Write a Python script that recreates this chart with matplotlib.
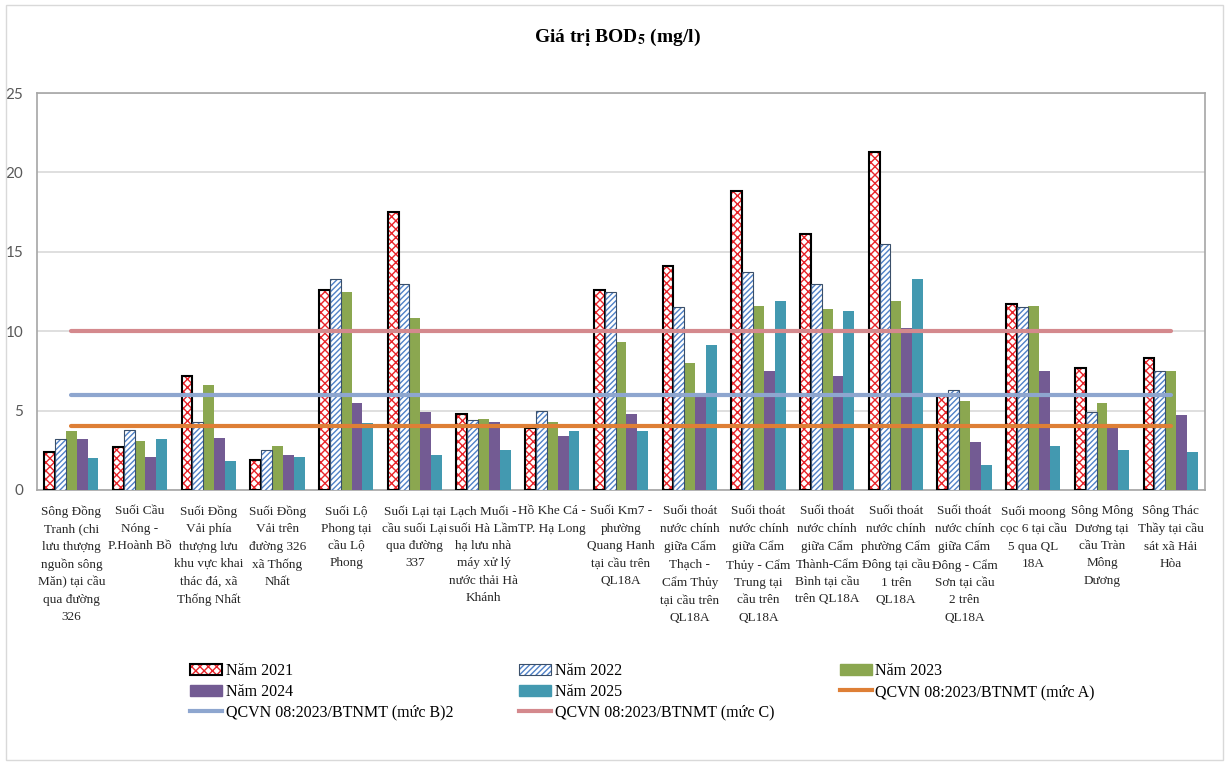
import numpy as np
import matplotlib
matplotlib.use("Agg")
import matplotlib.pyplot as plt
from matplotlib.patches import Patch, Rectangle
from matplotlib.lines import Line2D

plt.rcParams['font.family'] = ['Liberation Serif', 'DejaVu Serif']
plt.rcParams['hatch.linewidth'] = 1.0

categories = [
    "Sông Đồng\nTranh (chi\nlưu thượng\nnguồn sông\nMăn) tại cầu\nqua đường\n326",
    "Suối Cầu\nNóng -\nP.Hoành Bồ",
    "Suối Đồng\nVải phía\nthượng lưu\nkhu vực khai\nthác đá, xã\nThống Nhất",
    "Suối Đồng\nVải trên\nđường 326\nxã Thống\nNhất",
    "Suối Lộ\nPhong tại\ncầu Lộ\nPhong",
    "Suối Lại tại\ncầu suối Lại\nqua đường\n337",
    "Lạch Muối -\nsuối Hà Lầm\nhạ lưu nhà\nmáy xử lý\nnước thải Hà\nKhánh",
    "Hồ Khe Cá -\nTP. Hạ Long",
    "Suối Km7 -\nphường\nQuang Hanh\ntại cầu trên\nQL18A",
    "Suối thoát\nnước chính\ngiữa Cẩm\nThạch -\nCẩm Thủy\ntại cầu trên\nQL18A",
    "Suối thoát\nnước chính\ngiữa Cẩm\nThủy - Cẩm\nTrung tại\ncầu trên\nQL18A",
    "Suối thoát\nnước chính\ngiữa Cẩm\nThành-Cẩm\nBình tại cầu\ntrên QL18A",
    "Suối thoát\nnước chính\nphường Cẩm\nĐông tại cầu\n1 trên\nQL18A",
    "Suối thoát\nnước chính\ngiữa Cẩm\nĐông - Cẩm\nSơn tại cầu\n2 trên\nQL18A",
    "Suối moong\ncọc 6 tại cầu\n5 qua QL\n18A",
    "Sông Mông\nDương tại\ncầu Tràn\nMông\nDương",
    "Sông Thác\nThầy tại cầu\nsát xã Hải\nHòa",
]

y2021 = [2.4, 2.7, 7.2, 1.9, 12.6, 17.5, 4.8, 3.9, 12.6, 14.1, 18.8, 16.1, 21.3, 5.9, 11.7, 7.7, 8.3]
y2022 = [3.2, 3.8, 4.3, 2.5, 13.3, 13.0, 4.4, 5.0, 12.5, 11.5, 13.7, 13.0, 15.5, 6.3, 11.5, 4.9, 7.5]
y2023 = [3.7, 3.1, 6.6, 2.8, 12.5, 10.8, 4.5, 4.3, 9.3, 8.0, 11.6, 11.4, 11.9, 5.6, 11.6, 5.5, 7.5]
y2024 = [3.2, 2.1, 3.3, 2.2, 5.5, 4.9, 4.3, 3.4, 4.8, 5.9, 7.5, 7.2, 10.2, 3.0, 7.5, 3.9, 4.7]
y2025 = [2.0, 3.2, 1.8, 2.1, 4.2, 2.2, 2.5, 3.7, 3.7, 9.1, 11.9, 11.3, 13.3, 1.6, 2.8, 2.5, 2.4]

muc_a = 4
muc_b = 6
muc_c = 10

fig = plt.figure(figsize=(12.29, 7.65), dpi=100)
ax = fig.add_axes([0.0301, 0.3595, 0.9504, 0.5189])

x = np.arange(len(categories))
w = 0.158
offs = np.array([-2, -1, 0, 1, 2]) * w

# 2021: red crosshatch with black border
ax.bar(x + offs[0], y2021, w, color='white', edgecolor='#E8242A', hatch='xxxx', linewidth=0, zorder=3)
ax.bar(x + offs[0], y2021, w, fill=False, edgecolor='black', linewidth=1.5, zorder=4)
# 2022: blue diagonal hatch
ax.bar(x + offs[1], y2022, w, color='white', edgecolor='#4F81C7', hatch='//////', linewidth=0, zorder=3)
ax.bar(x + offs[1], y2022, w, fill=False, edgecolor='#3A4F6A', linewidth=0.8, zorder=4)
ax.bar(x + offs[2], y2023, w, color='#8BA750', zorder=3)
ax.bar(x + offs[3], y2024, w, color='#735B93', zorder=3)
ax.bar(x + offs[4], y2025, w, color='#4399B0', zorder=3)

ax.plot(x, [muc_a] * len(x), color='#DE7F36', lw=3, solid_capstyle='round', zorder=5)
ax.plot(x, [muc_b] * len(x), color='#8EA6CF', lw=3, solid_capstyle='round', zorder=5)
ax.plot(x, [muc_c] * len(x), color='#D4898D', lw=3, solid_capstyle='round', zorder=5)

ax.set_xlim(-0.5, len(x) - 0.5)
ax.set_ylim(0, 25)
ax.set_yticks(np.arange(0, 26, 5))
ax.yaxis.grid(True, color='#D9D9D9', lw=1.2)
ax.set_axisbelow(True)
ax.tick_params(axis='y', length=0, pad=10, labelsize=11, labelcolor='#595959')
for lab in ax.get_yticklabels():
    lab.set_family('Lato')
ax.set_xticks(x)
ax.set_xticklabels(categories, fontsize=9.5, linespacing=1.6, color='#262626')
ax.tick_params(axis='x', length=0, pad=11)
for s in ax.spines.values():
    s.set_color('#A6A6A6')
    s.set_linewidth(1.2)

fig.text(0.502, 0.951, r"Giá trị BOD$_\mathbf{5}$ (mg/l)", ha='center', va='center',
         fontsize=14, fontweight='bold', math_fontfamily='stix')

h2021 = (Patch(facecolor='white', edgecolor='#E8242A', hatch='xxxx', lw=0),
         Patch(fill=False, edgecolor='black', lw=1.5))
h2022 = (Patch(facecolor='white', edgecolor='#4F81C7', hatch='//////', lw=0),
         Patch(fill=False, edgecolor='#3A4F6A', lw=0.8))
handles = [h2021, Patch(color='#735B93'), Line2D([], [], color='#8EA6CF', lw=3),
           h2022, Patch(color='#4399B0'), Line2D([], [], color='#D4898D', lw=3),
           Patch(color='#8BA750'), Line2D([], [], color='#DE7F36', lw=3)]
labels = ['Năm 2021', 'Năm 2024', 'QCVN 08:2023/BTNMT (mức B)2',
          'Năm 2022', 'Năm 2025', 'QCVN 08:2023/BTNMT (mức C)',
          'Năm 2023', 'QCVN 08:2023/BTNMT (mức A)']
fig.legend(handles, labels, ncol=3, loc='upper left', bbox_to_anchor=(0.155, 0.133),
           frameon=False, fontsize=11.5, handlelength=2.0, handletextpad=0.2,
           columnspacing=4.15, labelspacing=0.3, borderaxespad=0, borderpad=0)

fig.patches.append(Rectangle((0.005, 0.006), 0.99, 0.988, transform=fig.transFigure,
                             fill=False, edgecolor='#D9D9D9', lw=1))

fig.savefig('out.png', dpi=100)
